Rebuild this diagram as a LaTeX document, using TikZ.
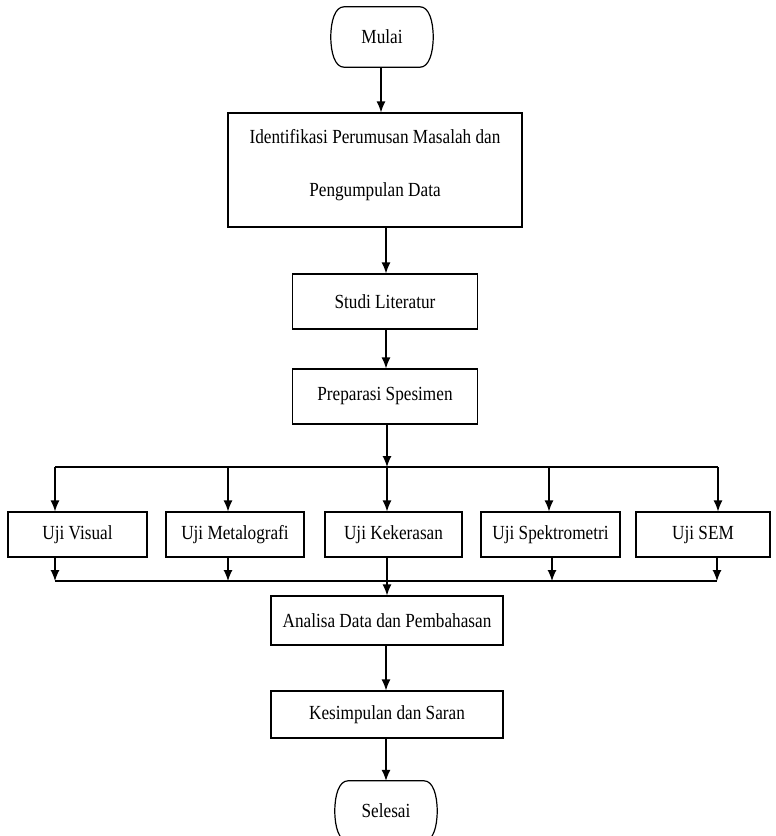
\documentclass[tikz,border=0pt]{standalone}
\usepackage{fontspec}
\setmainfont{Liberation Serif}[FakeStretch=0.86]
\usetikzlibrary{arrows.meta}
\begin{document}
\begin{tikzpicture}[x=1pt,y=-1pt,
  txt/.style={font=\fontsize{20}{23}\selectfont},
  box/.style={draw,line width=1.2pt,inner sep=0pt,txt},
  uji/.style={box,minimum height=45pt,text height=13.5pt,text depth=4.5pt},
  term/.style={inner sep=0pt,minimum width=102pt,minimum height=60pt,txt},
  outline/.style={line width=1.2pt},
  arr/.style={line width=1.2pt,-{Latex[length=11pt,width=9pt]}},
  ln/.style={line width=1.2pt}]
\useasboundingbox (0,0) rectangle (776,836);
\clip (0,0) rectangle (776,836);
\node[term] (mulai) at (382,37) {Mulai};
\node[box,minimum width=294pt,minimum height=114pt,align=center] (ident) at (375,170)
  {Identifikasi Perumusan Masalah dan\\[30pt]Pengumpulan Data\rule[-14pt]{0pt}{14pt}};
\node[box,minimum width=185pt,minimum height=55pt] (studi) at (385,301.5) {Studi Literatur};
\node[box,minimum width=185pt,minimum height=55pt] (prep) at (385,396.5) {Preparasi Spesimen};
\node[uji,minimum width=139pt] (vis) at (77.5,534.5) {Uji Visual};
\node[uji,minimum width=138pt] (met) at (235,534.5) {Uji Metalografi};
\node[uji,minimum width=137pt] (kek) at (393.5,534.5) {Uji Kekerasan};
\node[uji,minimum width=139pt] (spek) at (550.5,534.5) {Uji Spektrometri};
\node[uji,minimum width=134pt] (sem) at (703,534.5) {Uji SEM};
\node[box,minimum width=232pt,minimum height=49pt] (anal) at (387,620.5) {Analisa Data dan Pembahasan};
\node[box,minimum width=232pt,minimum height=47pt] (kes) at (387,714.5) {Kesimpulan dan Saran};
\node[term] (sel) at (386,811) {Selesai};
\foreach \t in {mulai,sel}{
  \draw[outline] ([xshift=-38pt]\t.north) -- ([xshift=38pt]\t.north)
    .. controls +(9,0) and +(0,-16) .. (\t.east)
    .. controls +(0,16) and +(9,0) .. ([xshift=38pt]\t.south)
    -- ([xshift=-38pt]\t.south)
    .. controls +(-9,0) and +(0,16) .. (\t.west)
    .. controls +(0,-16) and +(-9,0) .. cycle;
}
\coordinate (bv) at (55,467);
\coordinate (bm) at (228,467);
\coordinate (bk) at (387,467);
\coordinate (bs) at (549,467);
\coordinate (be) at (718,467);
\coordinate (mv) at (55,581);
\coordinate (mm) at (228,581);
\coordinate (mk) at (387,581);
\coordinate (ms) at (552,581);
\coordinate (me) at (717,581);
\draw[arr] (mulai.south -| 381,0) -- (ident.north -| 381,0);
\draw[arr] (ident.south -| 386,0) -- (studi.north -| 386,0);
\draw[arr] (studi.south -| 386,0) -- (prep.north -| 386,0);
\draw[arr] (prep.south -| bk) -- (bk);
\draw[ln] (bv) -- (be);
\draw[arr] (bv) -- (bv |- vis.north);
\draw[arr] (bm) -- (bm |- met.north);
\draw[arr] (bk) -- (bk |- kek.north);
\draw[arr] (bs) -- (bs |- spek.north);
\draw[arr] (be) -- (be |- sem.north);
\draw[arr] (vis.south -| mv) -- (mv);
\draw[arr] (met.south -| mm) -- (mm);
\draw[arr] (spek.south -| ms) -- (ms);
\draw[arr] (sem.south -| me) -- (me);
\draw[ln] (mv) -- (me);
\draw[arr] (kek.south -| mk) -- (anal.north -| mk);
\draw[arr] (anal.south -| 386,0) -- (kes.north -| 386,0);
\draw[arr] (kes.south -| 386,0) -- (sel.north -| 386,0);
\end{tikzpicture}
\end{document}
